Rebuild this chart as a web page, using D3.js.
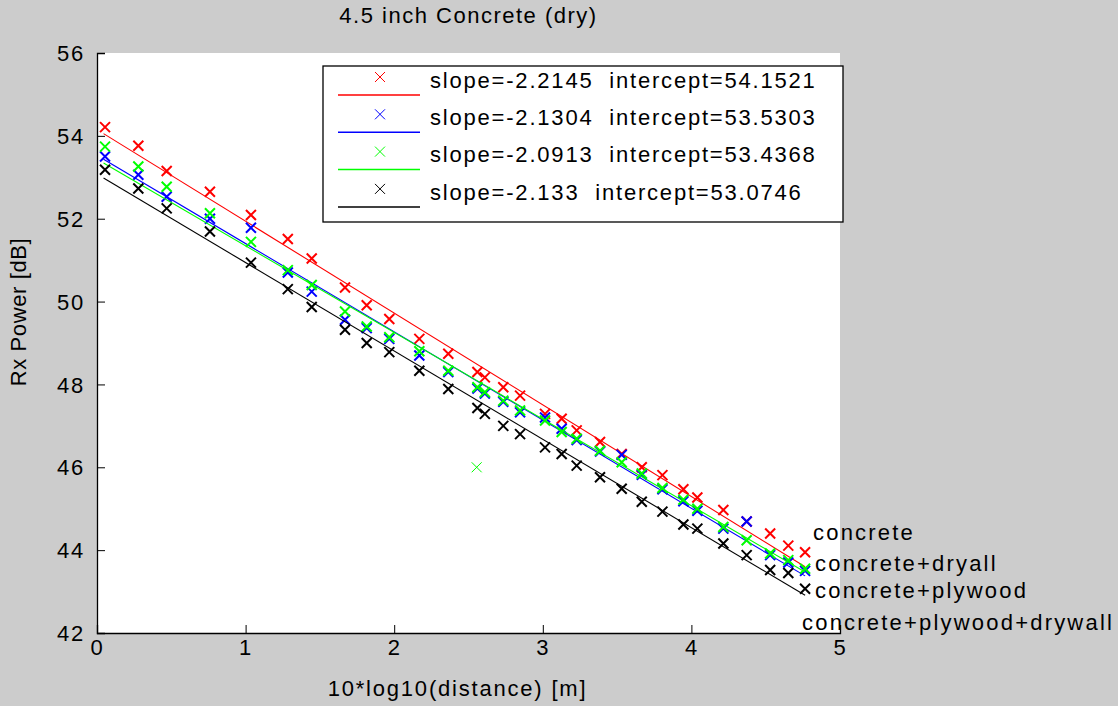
<!DOCTYPE html>
<html>
<head>
  <script src="https://cdnjs.cloudflare.com/ajax/libs/d3/7.8.5/d3.min.js"></script>
  <style>
    body { margin: 0; background: #cccccc; }
    svg text { font-family: "Liberation Sans", Arial, sans-serif; font-size: 22px; letter-spacing: 1.8px; fill: #000; white-space: pre; }
  </style>
</head>
<body>
<svg id="chart" width="1118" height="706"></svg>
<script>
// x positions: 10*log10(distance)
var xs = [0.054, 0.278, 0.469, 0.76, 1.036, 1.284, 1.445, 1.669, 1.815, 1.967,
          2.169, 2.364, 2.56, 2.61, 2.734, 2.847, 3.015, 3.127, 3.228, 3.385,
          3.531, 3.666, 3.805, 3.946, 4.04, 4.215, 4.372, 4.53, 4.652, 4.765];

var concrete = [54.21, 53.76, 53.15, 52.65, 52.09, 51.51, 51.04, 50.34, 49.91, 49.58,
                49.10, 48.74, 48.30, 48.17, 47.93, 47.73, 47.29, 47.17, 46.89, 46.61,
                46.32, 46.00, 45.81, 45.47, 45.27, 44.97, 44.69, 44.40, 44.11, 43.95];
var concreteDrywall = [53.50, 53.06, 52.53, 52.00, 51.78, 50.70, 50.24, 49.56, 49.36, 49.10,
                       48.70, 48.30, 47.90, 47.78, 47.58, 47.33, 47.20, 46.93, 46.66, 46.38,
                       46.30, 45.82, 45.47, 45.18, 44.95, 44.52, 44.69, 43.88, 43.70, 43.50];
var concretePlywood = [53.74, 53.26, 52.77, 52.13, 51.44, 50.76, 50.40, 49.76, 49.40, 49.14,
                       48.80, 48.33, 47.93, 47.81, 47.61, 47.37, 47.13, 46.85, 46.69, 46.40,
                       46.12, 45.85, 45.50, 45.22, 45.00, 44.56, 44.24, 43.92, 43.76, 43.55];
var plywoodOutlier = [[2.555, 46.0]];
var concretePlywoodDrywall = [53.18, 52.73, 52.25, 51.69, 50.94, 50.30, 49.87, 49.32, 49.00, 48.78,
                              48.33, 47.89, 47.43, 47.29, 47.00, 46.80, 46.48, 46.32, 46.04, 45.76,
                              45.48, 45.17, 44.93, 44.62, 44.52, 44.16, 43.88, 43.52, 43.45, 43.07];

var slopes = [-2.2145, -2.1304, -2.0913, -2.133];
var intercepts = [54.1521, 53.5303, 53.4368, 53.0746];
var slopeText = ["-2.2145", "-2.1304", "-2.0913", "-2.133"];
var interceptText = ["54.1521", "53.5303", "53.4368", "53.0746"];
var colors = ["#ff0000", "#0000ff", "#00ff00", "#000000"];
var names = ["concrete", "concrete+dryall", "concrete+plywood", "concrete+plywood+drywall"];
var xTicks = [0, 1, 2, 3, 4, 5];
var yTicks = [42, 44, 46, 48, 50, 52, 54, 56];

var svg = d3.select("#chart");
var pL = 97, pR = 840, pT = 53, pB = 633;

var x = d3.scaleLinear().domain([0, 5]).range([pL, pR]);
var y = d3.scaleLinear().domain([42, 56]).range([pB, pT]);

svg.append("rect").attr("x", pL).attr("y", pT)
  .attr("width", pR - pL).attr("height", pB - pT).attr("fill", "#fff");

// axes (left and bottom only, ticks inward)
var xAxis = d3.axisBottom(x).tickValues(xTicks).tickSize(-8).tickPadding(6).tickFormat(d3.format("d"));
var yAxis = d3.axisLeft(y).tickValues(yTicks).tickSize(-8).tickPadding(12).tickFormat(d3.format("d"));

var gx = svg.append("g").attr("transform", "translate(0," + pB + ")").call(xAxis);
var gy = svg.append("g").attr("transform", "translate(" + pL + ",0)").call(yAxis);
[gx, gy].forEach(function(g) {
  g.select(".domain").attr("stroke", "#000").attr("stroke-width", 1.3);
  g.selectAll(".tick line").attr("stroke", "#000");
  g.selectAll(".tick text").style("font-family", "Liberation Sans, Arial, sans-serif")
    .style("font-size", "22px").attr("fill", "#000");
});
gy.selectAll(".tick text").attr("dy", "0.35em");

var series = [concrete, concreteDrywall, concretePlywood, concretePlywoodDrywall];

function cross(g, px, py, color, w, s) {
  g.append("path")
    .attr("d", "M" + (px - s) + "," + (py - s) + "L" + (px + s) + "," + (py + s) +
               "M" + (px - s) + "," + (py + s) + "L" + (px + s) + "," + (py - s))
    .attr("stroke", color).attr("stroke-width", w).attr("fill", "none");
}

var plot = svg.append("g");
series.forEach(function(vals, i) {
  vals.forEach(function(v, j) { cross(plot, x(xs[j]), y(v), colors[i], 2, 5); });
  if (i === 2) plywoodOutlier.forEach(function(p) { cross(plot, x(p[0]), y(p[1]), colors[i], 1, 5); });
  var ext = d3.extent(xs);
  var line = d3.line().x(function(d) { return x(d); }).y(function(d) { return y(intercepts[i] + slopes[i] * d); });
  plot.append("path").attr("d", line([ext[0] - 0.01, ext[1]]))
    .attr("stroke", colors[i]).attr("stroke-width", 1.1).attr("fill", "none");
});

// legend
var lg = svg.append("g");
lg.append("rect").attr("x", 323).attr("y", 66).attr("width", 520).attr("height", 156)
  .attr("fill", "#fff").attr("stroke", "#000").attr("stroke-width", 1.3);
series.forEach(function(vals, i) {
  var cy = 80 + 37.3 * i;
  cross(lg, 380, cy - 3, colors[i], 1, 5);
  lg.append("line").attr("x1", 338).attr("x2", 420).attr("y1", cy + 15).attr("y2", cy + 15)
    .attr("stroke", colors[i]).attr("stroke-width", 1.5);
  lg.append("text").attr("x", 430).attr("y", cy).attr("dy", "0.35em")
    .text("slope=" + slopeText[i] + "  intercept=" + interceptText[i]);
});

// right-side labels
var labelPos = [[813, 532], [815, 563], [815, 590], [802, 622]];
names.forEach(function(n, i) {
  svg.append("text").attr("x", labelPos[i][0]).attr("y", labelPos[i][1]).attr("dy", "0.35em")
    .style("letter-spacing", "2.2px").text(n);
});

svg.append("text").attr("x", (pL + pR) / 2).attr("y", 15).attr("dy", "0.35em")
  .attr("text-anchor", "middle").style("letter-spacing", "1.5px").text("4.5 inch Concrete (dry)");
svg.append("text").attr("x", (pL + pR) / 2 - 11).attr("y", 688).attr("dy", "0.35em")
  .attr("text-anchor", "middle").text("10*log10(distance) [m]");
svg.append("text").attr("transform", "translate(18,312) rotate(-90)")
  .attr("dy", "0.35em").attr("text-anchor", "middle").style("letter-spacing", "0.6px").text("Rx Power [dB]");
</script>
</body>
</html>
